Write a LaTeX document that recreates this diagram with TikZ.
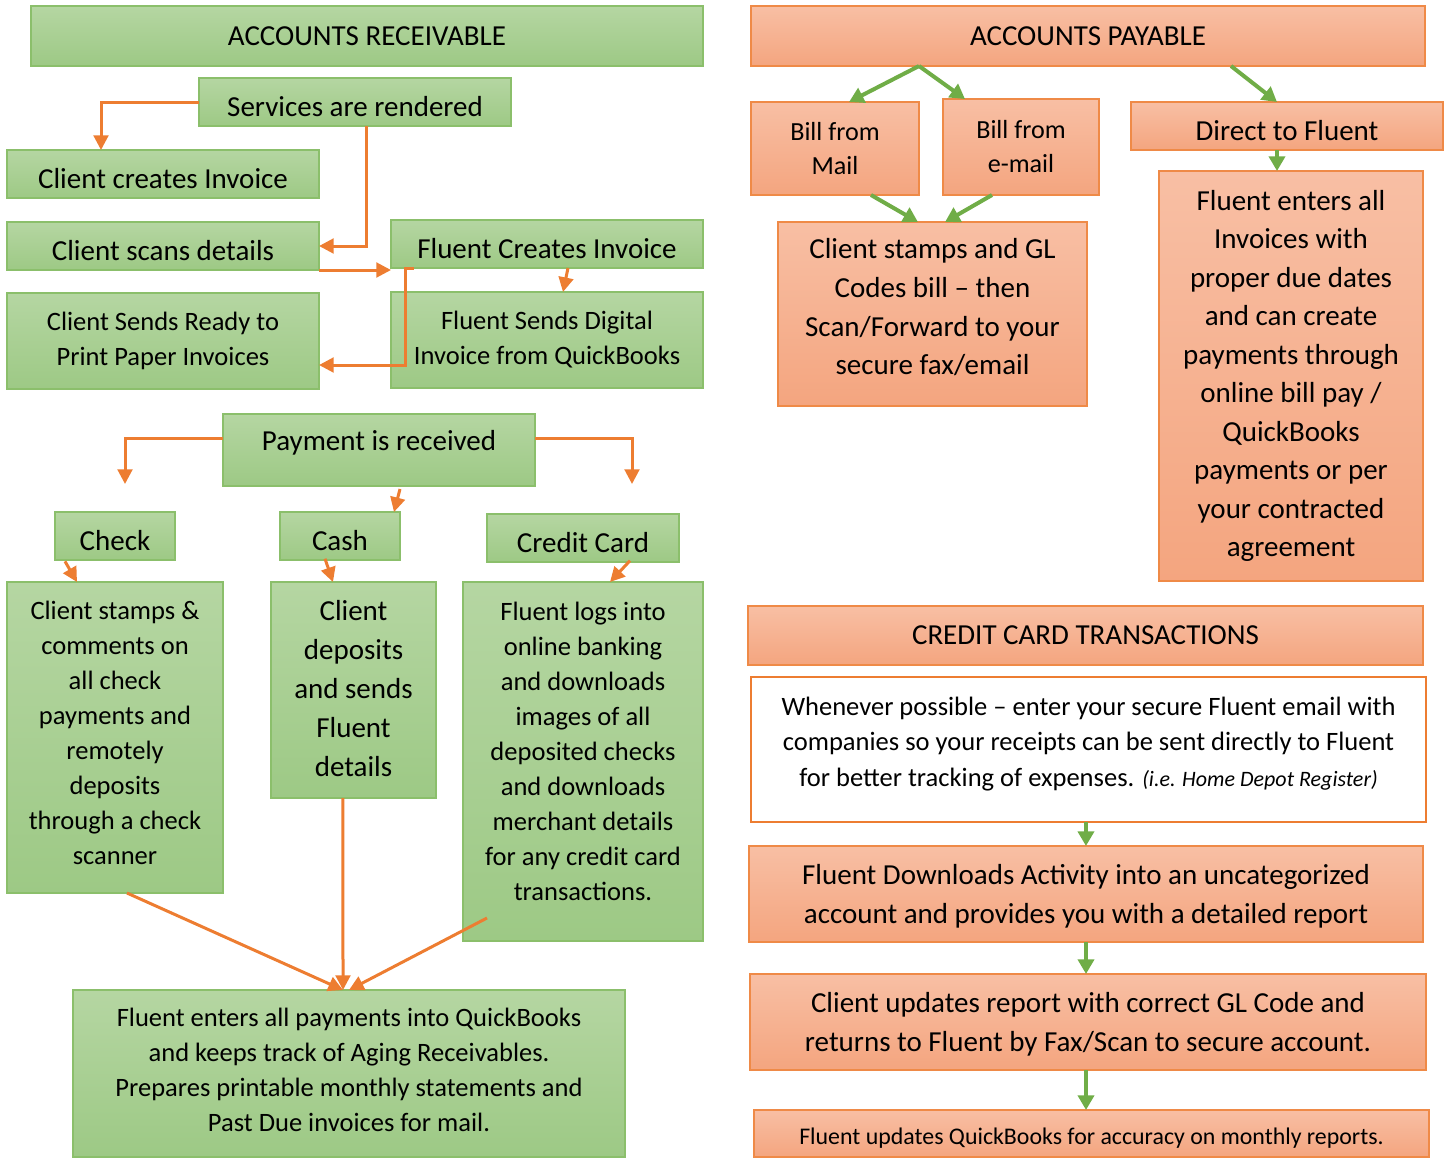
\documentclass[tikz,border=0pt]{standalone}
\usepackage{fontspec}
\setmainfont{Carlito}
\usetikzlibrary{arrows.meta,calc}
\definecolor{gtop}{HTML}{B5D6A2}
\definecolor{gbot}{HTML}{9DC985}
\definecolor{gline}{HTML}{8BBF6B}
\definecolor{otop}{HTML}{F8BFA4}
\definecolor{obot}{HTML}{F4A57F}
\definecolor{oline}{HTML}{EF8A47}
\definecolor{arrO}{HTML}{ED7D31}
\definecolor{arrG}{HTML}{70AD47}
\tikzset{
  place/.style n args={4}{minimum width={(#3-#1)*0.75pt}, minimum height={(#4-#2)*0.75pt}, at={({(#1+#3)/2},{(#2+#4)/2})}},
  basebox/.style={rectangle, inner sep=0pt, outer sep=0pt, align=center, text=black, line width=1.2pt},
  gbox/.style={basebox, draw=gline, top color=gtop, bottom color=gbot},
  obox/.style={basebox, draw=oline, top color=otop, bottom color=obot},
  wbox/.style={basebox, draw=arrO, fill=white, line width=2pt},
  fbig/.style={font=\fontsize{21.75pt}{28.9pt}\selectfont},
  fbigw/.style={font=\fontsize{21.75pt}{29.25pt}\selectfont},
  fmid/.style={font=\fontsize{19.9pt}{26.25pt}\selectfont},
  fbill/.style={font=\fontsize{19.6pt}{25.5pt}\selectfont},
  fsmall/.style={font=\fontsize{17.9pt}{22pt}\selectfont},
  oneline/.style={text height=22pt, text depth=0pt},
  oarr/.style={draw=arrO, line width=2.25pt, -{Triangle[length=11pt,width=11pt]}},
  garr/.style={draw=arrG, line width=3pt, -{Triangle[length=11pt,width=12pt]}},
}
\begin{document}
\begin{tikzpicture}[x=0.75pt,y=-0.75pt]
\useasboundingbox (0,0) rectangle (1448,1158);
% ---------- Accounts receivable ----------
\node[gbox,fbig,place={31}{6}{703}{66}] (arH) {ACCOUNTS RECEIVABLE};
\node[gbox,fbig,oneline,place={199}{78}{511}{126}] (srv) {Services are rendered};
\node[gbox,fbig,oneline,place={7}{150}{319}{198}] (cci) {Client creates Invoice};
\node[gbox,fbig,oneline,place={7}{222}{319}{270}] (csd) {Client scans details};
\node[gbox,fbig,oneline,place={391}{220}{703}{268}] (fci) {Fluent Creates Invoice};
\node[gbox,fmid,place={7}{293}{319}{389}] (csr) {Client Sends Ready to\\Print Paper Invoices};
\node[gbox,fmid,place={391}{292}{703}{388}] (fsd) {Fluent Sends Digital\\Invoice from QuickBooks};
\node[gbox,fbig,place={223}{414}{535}{486},text depth=15pt] (pay) {Payment is received};
\node[gbox,fbig,oneline,place={55}{512}{175}{560}] (chk) {Check};
\node[gbox,fbig,oneline,place={280}{512}{400}{560}] (csh) {Cash};
\node[gbox,fbig,oneline,place={487}{514}{679}{562}] (ccd) {Credit Card};
\node[gbox,fmid,place={7}{582}{223}{893},text depth=7.5pt] (cst) {Client stamps \&\\comments on\\all check\\payments and\\remotely\\deposits\\through a check\\scanner};
\node[gbox,fbigw,place={271}{582}{436}{798},text depth=3pt] (cdp) {Client\\deposits\\and sends\\Fluent\\details};
\node[gbox,fmid,place={463}{582}{703}{941},text depth=15pt] (flg) {Fluent logs into\\online banking\\and downloads\\images of all\\deposited checks\\and downloads\\merchant details\\for any credit card\\transactions.};
\node[gbox,fmid,place={73}{990}{625}{1157},text depth=6pt] (fea) {Fluent enters all payments into QuickBooks\\and keeps track of Aging Receivables.\\Prepares printable monthly statements and\\Past Due invoices for mail.};
% ---------- Accounts payable ----------
\node[obox,fbig,place={751}{6}{1425}{66}] (apH) {ACCOUNTS PAYABLE};
\node[obox,fbill,place={751}{102}{919}{195}] (bfm) {Bill from\\Mail};
\node[obox,fbill,place={943}{99}{1099}{195}] (bfe) {Bill from\\e-mail};
\node[obox,fbig,oneline,place={1131}{102}{1443}{150}] (dtf) {Direct to Fluent};
\node[obox,fbig,place={778}{222}{1087}{406},text depth=11pt] (csg) {Client stamps and GL\\Codes bill -- then\\Scan/Forward to your\\secure fax/email};
\node[obox,fbig,place={1159}{171}{1423}{581}] (fei) {Fluent enters all\\Invoices with\\proper due dates\\and can create\\payments through\\online bill pay /\\QuickBooks\\payments or per\\your contracted\\agreement};
\node[obox,fbig,place={748}{606}{1423}{665}] (cct) {CREDIT CARD TRANSACTIONS};
\node[wbox,font=\fontsize{19.9pt}{26.6pt}\selectfont,place={751}{677}{1426}{822},text depth=12pt] (wen) {Whenever possible -- enter your secure Fluent email with\\companies so your receipts can be sent directly to Fluent\\for better tracking of expenses. {\itshape\fontsize{16.5pt}{26.6pt}\selectfont(i.e. Home Depot Register)}};
\node[obox,fbigw,place={749}{846}{1423}{942},text depth=0pt] (fda) {Fluent Downloads Activity into an uncategorized\\account and provides you with a detailed report};
\node[obox,fbigw,place={750}{974}{1426}{1070},text depth=0pt] (cur) {Client updates report with correct GL Code and\\returns to Fluent by Fax/Scan to secure account.};
\node[obox,fsmall,place={754}{1110}{1429}{1157},text height=16pt,text depth=0pt] (fuq) {Fluent updates QuickBooks for accuracy on monthly reports.};
% ---------- orange connectors ----------
\draw[oarr] (srv.west) -| ([xshift=-46.5pt]cci.north);
\draw[oarr] ([xshift=8.25pt]srv.south) |- (csd.east);
\draw[oarr] (csd.south east) -- (csd.south east -| fci.west);
\draw[oarr] ([xshift=17.25pt]fci.south west) -- ++(-6.75pt,0) |- ([yshift=-18pt]csr.east);
\draw[oarr] ([xshift=15.75pt]fci.south) -- ([xshift=12pt]fsd.north);
\draw[oarr] ([yshift=9pt]pay.west) -| ([xshift=7.5pt,yshift=21pt]chk.north);
\draw[oarr] ([yshift=9pt]pay.east) -| ([xshift=36.75pt,yshift=22.5pt]ccd.north);
\draw[oarr] ([xshift=15.75pt,yshift=-2.25pt]pay.south) -- ([xshift=40.5pt]csh.north);
\draw[oarr] ([xshift=-37.5pt,yshift=-1pt]chk.south) -- ([xshift=-28.5pt]cst.north);
\draw[oarr] ([xshift=-11.25pt,yshift=1pt]csh.south) -- ([xshift=-15.4pt]cdp.north);
\draw[oarr] ([xshift=35.25pt,yshift=1pt]ccd.south) -- ([xshift=20.25pt]flg.north);
\draw[oarr] ([xshift=9pt]cst.south) -- ([xshift=-4.5pt]fea.north);
\draw[oarr] ([xshift=-7.9pt]cdp.south) -- ([xshift=-4.5pt]fea.north);
\draw[oarr] ([xshift=18pt,yshift=17.25pt]flg.south west) -- ([xshift=0pt]fea.north);
% ---------- green connectors ----------
\draw[garr] ([xshift=-126.75pt]apH.south) -- ([xshift=10.5pt]bfm.north);
\draw[garr] ([xshift=-126.75pt]apH.south) -- ([xshift=-42pt]bfe.north);
\draw[garr] ([xshift=107.25pt]apH.south) -- ([xshift=-7.5pt]dtf.north);
\draw[garr] ([xshift=-7.5pt]dtf.south) -- ([xshift=-10.5pt]fei.north);
\draw[garr] ([xshift=27pt]bfm.south) -- ([xshift=-10.9pt]csg.north);
\draw[garr] ([xshift=-21.75pt]bfe.south) -- ([xshift=9.4pt]csg.north);
\draw[garr] ([xshift=-1.9pt]wen.south) -- ([xshift=-1.9pt]wen.south |- fda.north);
\draw[garr] (fda.south) -- (fda.south |- cur.north);
\draw[garr] ([xshift=-1.5pt]cur.south) -- ([xshift=-1.5pt]cur.south |- fuq.north);
\end{tikzpicture}
\end{document}
